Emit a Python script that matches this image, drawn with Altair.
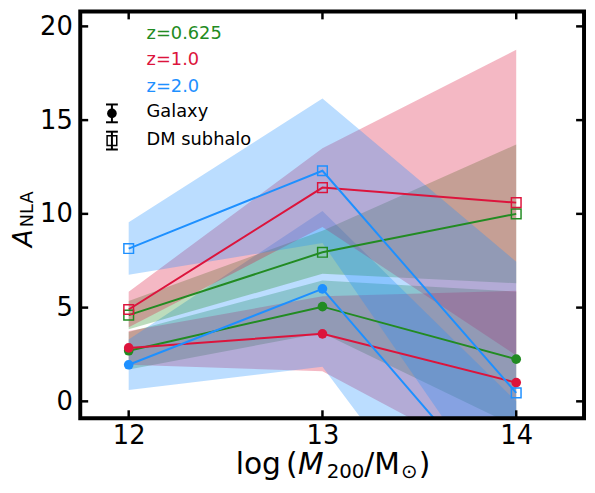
import altair as alt
import pandas as pd

# halo mass bins and redshifts
mass = [12, 13, 14]
redshifts = ['z=0.625', 'z=1.0', 'z=2.0']
colors = ['#228B22', '#DC143C', '#1E90FF']

# galaxy A_NLA and 1-sigma half widths
gal_z0625 = [2.7, 5.05, 2.25]
gal_z10 = [2.85, 3.6, 1.0]
gal_z20 = [1.95, 6.0, -6.0]
gal_z0625_err = [1.0, 1.4, 3.6]
gal_z10_err = [0.9, 2.0, 4.9]
gal_z20_err = [1.35, 4.15, 6.0]

# DM subhalo A_NLA and 1-sigma half widths
dm_z0625 = [4.6, 7.95, 10.0]
dm_z10 = [4.9, 11.4, 10.6]
dm_z20 = [8.15, 12.3, 0.45]
dm_z0625_err = [0.75, 1.15, 3.7]
dm_z10_err = [0.95, 2.1, 8.15]
dm_z20_err = [1.4, 3.85, 7.0]

x_ticks = [12, 13, 14]
y_ticks = [0, 5, 10, 15, 20]

W, H = 509, 412
FONT = 'DejaVu Sans'

rows = []
series = [
    ('Galaxy', redshifts[0], gal_z0625, gal_z0625_err),
    ('Galaxy', redshifts[1], gal_z10, gal_z10_err),
    ('Galaxy', redshifts[2], gal_z20, gal_z20_err),
    ('DM subhalo', redshifts[0], dm_z0625, dm_z0625_err),
    ('DM subhalo', redshifts[1], dm_z10, dm_z10_err),
    ('DM subhalo', redshifts[2], dm_z20, dm_z20_err),
]
for kind, z, vals, errs in series:
    for m, v, e in zip(mass, vals, errs):
        rows.append({'mass': m, 'value': v, 'lo': v - e, 'hi': v + e,
                     'z': z, 'kind': kind})
df = pd.DataFrame(rows)

x_enc = alt.X('mass:Q', scale=alt.Scale(domain=[11.75, 14.35], nice=False, zero=False),
              axis=alt.Axis(values=x_ticks, format='d', ticks=False, domain=False, grid=False,
                            labelFontSize=26, labelFont=FONT, labelColor='black',
                            labelPadding=5, title=None))
y_scale = alt.Scale(domain=[-0.9, 20.85], nice=False, zero=False)
y_axis = alt.Axis(values=y_ticks, format='d', ticks=False, domain=False, grid=False,
                  labelFontSize=26, labelFont=FONT, labelColor='black',
                  labelPadding=8, title=None)
color_enc = alt.Color('z:N', scale=alt.Scale(domain=redshifts, range=colors), legend=None)

base = alt.Chart(df)

bands = base.mark_area(opacity=0.3, clip=True).encode(
    x=x_enc,
    y=alt.Y('lo:Q', scale=y_scale, axis=y_axis),
    y2='hi:Q',
    color=color_enc,
    detail='kind:N'
)

lines = base.mark_line(strokeWidth=2, clip=True).encode(
    x=x_enc,
    y=alt.Y('value:Q', scale=y_scale, axis=y_axis),
    color=color_enc,
    detail='kind:N'
)

gal_pts = base.transform_filter(alt.datum.kind == 'Galaxy').mark_point(
    shape='circle', filled=True, size=95, opacity=1, clip=True
).encode(x=x_enc, y=alt.Y('value:Q', scale=y_scale, axis=y_axis), color=color_enc)

dm_pts = base.transform_filter(alt.datum.kind == 'DM subhalo').mark_point(
    shape='square', filled=False, size=95, strokeWidth=1.5, opacity=1, clip=True
).encode(x=x_enc, y=alt.Y('value:Q', scale=y_scale, axis=y_axis), color=color_enc)

# inward ticks on all four sides
xt = alt.Chart(pd.DataFrame({'mass': x_ticks}))
yt = alt.Chart(pd.DataFrame({'value': y_ticks}))
y_enc_t = alt.Y('value:Q', scale=y_scale, axis=y_axis)
tick_b = xt.mark_rule(color='black', strokeWidth=2.5).encode(x=x_enc, y=alt.value(H), y2=alt.value(H - 8))
tick_t = xt.mark_rule(color='black', strokeWidth=2.5).encode(x=x_enc, y=alt.value(1), y2=alt.value(9))
tick_l = yt.mark_rule(color='black', strokeWidth=2.5).encode(y=y_enc_t, x=alt.value(0), x2=alt.value(8))
tick_r = yt.mark_rule(color='black', strokeWidth=2.5).encode(y=y_enc_t, x=alt.value(W), x2=alt.value(W - 8))

one = alt.Chart(pd.DataFrame({'k': [0]}))
frame = one.mark_rect(fillOpacity=0, stroke='black', strokeWidth=4).encode(
    x=alt.value(0), x2=alt.value(W), y=alt.value(1), y2=alt.value(H))

# legend (positions in plot pixels)
legend_layers = []
for i, (z, c) in enumerate(zip(redshifts, colors)):
    legend_layers.append(one.mark_text(text=z, color=c, font=FONT, fontSize=18, align='left',
                                       baseline='alphabetic').encode(
        x=alt.value(67), y=alt.value(29 + 26.5 * i)))
for label, yc in [('Galaxy', 104), ('DM subhalo', 131.5)]:
    legend_layers.append(one.mark_text(text=label, color='black', font=FONT, fontSize=18,
                                       align='left', baseline='alphabetic').encode(
        x=alt.value(67), y=alt.value(yc + 4)))
    legend_layers.append(one.mark_rule(color='black', strokeWidth=2).encode(
        x=alt.value(32), y=alt.value(yc - 9), y2=alt.value(yc + 9)))
    for yy in (yc - 9, yc + 9):
        legend_layers.append(one.mark_rule(color='black', strokeWidth=2).encode(
            x=alt.value(26), x2=alt.value(38), y=alt.value(yy)))
legend_layers.append(one.mark_point(shape='circle', filled=True, size=95, color='black', opacity=1).encode(
    x=alt.value(32), y=alt.value(104)))
legend_layers.append(one.mark_point(shape='square', filled=False, size=95, strokeWidth=1.5,
                                    color='black', opacity=1).encode(
    x=alt.value(32), y=alt.value(131.5)))

# axis titles built from pieces (subscripts)
def txt(s, x, y, size, style='normal', angle=0):
    return one.mark_text(text=s, font=FONT, fontSize=size, fontStyle=style, color='black',
                         align='left', baseline='alphabetic', angle=angle).encode(
        x=alt.value(x), y=alt.value(y))

xb = 468
titles = [
    txt('log', 157, xb, 30),
    txt('(', 208, xb, 30),
    txt('M', 220, xb, 30, 'italic'),
    txt('200', 249, xb + 4, 20),
    txt('/M', 287, xb, 30),
    txt('⊙', 324, xb + 4, 20),
    txt(')', 342, xb, 30),
    txt('A', -49, 239, 26, 'italic', 270),
    txt('NLA', -48, 219, 18, 'normal', 270),
]

chart = alt.layer(
    bands, lines, gal_pts, dm_pts, frame, tick_b, tick_t, tick_l, tick_r,
    *legend_layers, *titles
).properties(
    width=W, height=H,
    autosize=alt.AutoSizeParams(type='none'),
    padding={'left': 73, 'top': 0, 'right': 3, 'bottom': 65}
).configure_view(stroke=None)

chart.save('out.html', embed_options={'renderer': 'svg', 'actions': False})
